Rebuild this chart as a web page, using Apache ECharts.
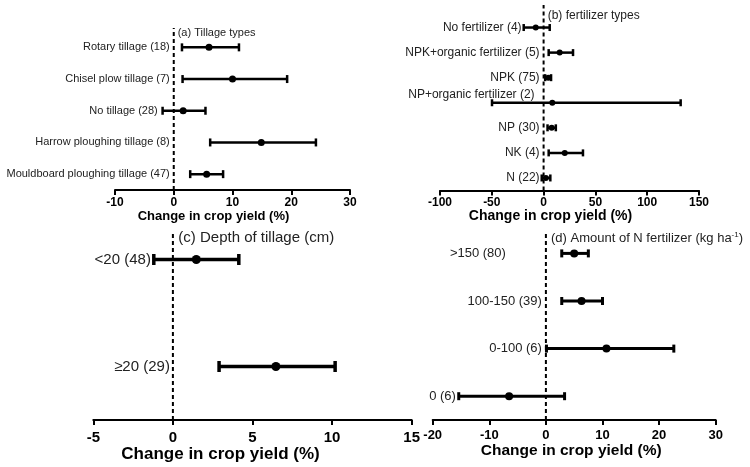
<!DOCTYPE html>
<html>
<head>
<meta charset="utf-8">
<script src="https://cdn.jsdelivr.net/npm/echarts@6/dist/echarts.min.js"></script>
<style>html,body{margin:0;padding:0;background:#fff}#c{width:750px;height:467px}</style>
</head>
<body>
<div id="c"></div>
<script>
// ---------- DATA ----------
// (a) Tillage types
const tillageCats = ['Rotary tillage (18)', 'Chisel plow tillage (7)', 'No tillage (28)', 'Harrow ploughing tillage (8)', 'Mouldboard ploughing tillage (47)'];
const tillageMean = [6.0, 10.0, 1.6, 14.9, 5.6];
const tillageLow  = [1.4, 1.5, -1.9, 6.2, 2.8];
const tillageHigh = [11.1, 19.3, 5.4, 24.2, 8.4];
const tillageTicks = [-10, 0, 10, 20, 30];

// (b) fertilizer types
const fertCats = ['No fertilizer (4)', 'NPK+organic fertilizer (5)', 'NPK (75)', 'NP+organic fertilizer (2)', 'NP (30)', 'NK (4)', 'N (22)'];
const fertMean = [-7.6, 15.5, 4.5, 8.4, 7.8, 20.4, 2.2];
const fertLow  = [-19.2, 4.9, 1.5, -49.8, 3.8, 4.9, -1.8];
const fertHigh = [5.9, 28.4, 7.2, 132.3, 11.8, 38.0, 6.5];
const fertTicks = [-100, -50, 0, 50, 100, 150];

// (c) Depth of tillage
const depthCats = ['<20 (48)', '≥20 (29)'];
const depthMean = [1.47, 6.47];
const depthLow  = [-1.2, 2.9];
const depthHigh = [4.14, 10.19];
const depthTicks = [-5, 0, 5, 10, 15];

// (d) Amount of N fertilizer
const nCats = ['>150 (80)', '100-150 (39)', '0-100 (6)', '0 (6)'];
const nMean = [5.0, 6.3, 10.7, -6.5];
const nLow  = [2.8, 2.8, 0.1, -15.4];
const nHigh = [7.5, 10.0, 22.6, 3.3];
const nTicks = [-20, -10, 0, 10, 20, 30];

const axisTitle = 'Change in crop yield (%)';
const panelTitles = ['(a) Tillage types', '(b) fertilizer types', '(c) Depth of tillage (cm)', '(d) Amount of N fertilizer (kg ha{sup|-1})'];

// ---------- LAYOUT / STYLE ----------
const FONT = '"Liberation Sans", Arial, sans-serif';
const panels = [
  { cats: tillageCats, mean: tillageMean, low: tillageLow, high: tillageHigh, ticks: tillageTicks,
    grid: { left: 115, top: 31.5, width: 235, height: 158.5 },
    labelSize: 11, labelMargin: 4, labelPad: [[0,0,0,0],[0,0,0,0],[0,12,0,0],[0,0,0,0],[0,0,0,0]],
    tickSize: 12, tickMargin: 7, nameSize: 13, nameGap: 17, namePad: [0, 38, 0, 0],
    refTop: 1.022, lw: 2.5, cap: 4, r: 3.5 },
  { cats: fertCats, mean: fertMean, low: fertLow, high: fertHigh, ticks: fertTicks,
    grid: { left: 440, top: 15, width: 259, height: 175.5 },
    labelSize: 12, labelMargin: 4, labelPad: [[0,18,0,0],[0,0,0,0],[0,0,0,0],[0,5,16,0],[0,0,0,0],[0,0,0,0],[0,0,0,0]],
    tickSize: 12, tickMargin: 6, nameSize: 14, nameGap: 18, namePad: [0, 38, 0, 0],
    refTop: 1.057, lw: 2.5, cap: 3.5, r: 3 },
  { cats: depthCats, mean: depthMean, low: depthLow, high: depthHigh, ticks: depthTicks,
    grid: { left: 93.3, top: 206, width: 318.4, height: 214 },
    labelSize: 15, labelMargin: 3, labelPad: [[0,19,0,0],[0,0,0,0]],
    tickSize: 15, tickMargin: 10, nameSize: 17, nameGap: 22, namePad: [0, 64, 0, 0],
    refTop: 0.874, lw: 3.5, cap: 5.5, r: 4.5 },
  { cats: nCats, mean: nMean, low: nLow, high: nHigh, ticks: nTicks,
    grid: { left: 432.7, top: 229.6, width: 283, height: 190.4 },
    labelSize: 13, labelMargin: 4, labelPad: [[0,36,0,0],[0,0,0,0],[0,0,0,0],[0,86,0,0]],
    tickSize: 13, tickMargin: 9, nameSize: 15.5, nameGap: 21, namePad: [0, 6, 0, 0],
    refTop: 0.982, lw: 3, cap: 4, r: 4 }
];
const titlePos = [
  { x: 177.7, y: 32.7, size: 11 },
  { x: 547.7, y: 16, size: 12 },
  { x: 178.3, y: 238.3, size: 15 },
  { x: 551, y: 238.3, size: 13 }
];

function makeRenderItem(p) {
  return function (params, api) {
    const yi = api.value(0);
    const lo = api.coord([api.value(1), yi]);
    const hi = api.coord([api.value(2), yi]);
    const m = api.coord([api.value(3), yi]);
    const st = { stroke: '#000', lineWidth: p.lw };
    return {
      type: 'group',
      children: [
        { type: 'line', shape: { x1: lo[0], y1: lo[1], x2: hi[0], y2: hi[1] }, style: st },
        { type: 'line', shape: { x1: lo[0], y1: lo[1] - p.cap, x2: lo[0], y2: lo[1] + p.cap }, style: st },
        { type: 'line', shape: { x1: hi[0], y1: hi[1] - p.cap, x2: hi[0], y2: hi[1] + p.cap }, style: st },
        { type: 'circle', shape: { cx: m[0], cy: m[1], r: p.r }, style: { fill: '#000' } }
      ]
    };
  };
}

const grid = [], xAxis = [], yAxis = [], series = [];
panels.forEach((p, i) => {
  grid.push(Object.assign({ outerBoundsMode: 'none', containLabel: false }, p.grid));
  const t = p.ticks;
  xAxis.push({
    type: 'value', gridIndex: i, min: t[0], max: t[t.length - 1], interval: t[1] - t[0],
    splitLine: { show: false },
    axisLine: { show: true, onZero: false, lineStyle: { color: '#000', width: 2 } },
    axisTick: { show: true, length: 5, lineStyle: { color: '#000', width: 2 } },
    axisLabel: { fontFamily: FONT, fontSize: p.tickSize, fontWeight: 'bold', color: '#000', margin: p.tickMargin },
    name: axisTitle, nameLocation: 'middle', nameGap: p.nameGap,
    nameTextStyle: { fontFamily: FONT, fontSize: p.nameSize, fontWeight: 'bold', color: '#000', padding: p.namePad }
  });
  const rich = {};
  p.cats.forEach((c, k) => {
    rich['p' + k] = { fontFamily: FONT, fontSize: p.labelSize, color: '#222', padding: p.labelPad[k] };
  });
  yAxis.push({
    type: 'category', gridIndex: i, data: p.cats, inverse: true, offset: 0,
    axisLine: { show: false, onZero: false },
    axisTick: { show: false },
    splitLine: { show: false },
    axisLabel: {
      interval: 0, margin: p.labelMargin, fontFamily: FONT, fontSize: p.labelSize, color: '#222',
      formatter: (v, k) => '{p' + k + '|' + v + '}', rich: rich
    }
  });
  yAxis.push({
    type: 'value', gridIndex: i, min: 0, max: 1, show: false,
    axisLine: { onZero: false }, splitLine: { show: false }
  });
  // dashed zero reference line
  series.push({
    type: 'line', xAxisIndex: i, yAxisIndex: 2 * i + 1, silent: true, clip: false,
    symbol: 'none', data: [[0, 0], [0, p.refTop]],
    lineStyle: { color: '#000', width: 2, type: [4, 3] }
  });
  // error bars
  series.push({
    type: 'custom', xAxisIndex: i, yAxisIndex: 2 * i, silent: true,
    renderItem: makeRenderItem(p),
    encode: { x: [1, 2, 3], y: 0 },
    data: p.cats.map((c, k) => [k, p.low[k], p.high[k], p.mean[k]])
  });
});

const graphic = panelTitles.map((txt, i) => ({
  type: 'text', x: titlePos[i].x, y: titlePos[i].y, silent: true,
  style: {
    text: txt, fontFamily: FONT, fontSize: titlePos[i].size, fill: '#222', verticalAlign: 'middle',
    rich: { sup: { fontFamily: FONT, fontSize: 8, fill: '#222', padding: [0, 0, 7, 0] } }
  }
}));

const chart = echarts.init(document.getElementById('c'), null, { renderer: 'canvas' });
chart.setOption({
  backgroundColor: '#fff',
  animation: false,
  grid, xAxis, yAxis, series, graphic
});
// place the category labels next to the zero line using the x scale
panels.forEach((p, i) => {
  const x0 = chart.convertToPixel({ xAxisIndex: i }, 0);
  yAxis[2 * i].offset = -(x0 - p.grid.left);
});
chart.setOption({ yAxis });
</script>
</body>
</html>
